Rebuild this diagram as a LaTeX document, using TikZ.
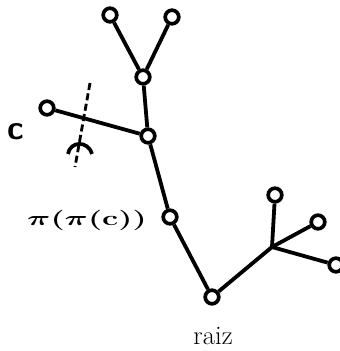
\documentclass[tikz,border=0pt]{standalone}
\usepackage{amsmath,amssymb,bm}
\usepackage{tikz}
\usetikzlibrary{arrows,positioning}

\begin{document}
\begin{tikzpicture}[x=0.025cm,y=-0.025cm,line width=2.7pt,
  vert/.style={circle,draw,fill=white,inner sep=0pt,minimum size=0.34cm,line width=2.6pt},
  cutmark/.style={line width=2pt,dash pattern=on 5pt off 2.5pt}]

              \useasboundingbox (0,0) rectangle (340,351);

              % Define vertices by coordinates
              \node[vert] (l1) at (110,15) {};
              \node[vert] (l2) at (172,17) {};
              \node[vert] (y) at (143,77) {};
              \node[vert] (c) at (47,108) {};
              \node[vert] (p1) at (148,136) {};
              \node[vert] (p2) at (170,217) {};
              \node[vert] (r) at (212,297) {};
              \coordinate (b) at (272,247);
              \node[vert] (b1) at (275,195) {};
              \node[vert] (b2) at (318,222) {};
              \node[vert] (b3) at (336,265) {};

              % Labels
              \node (lc) at (16,132) {\fontsize{24}{24}\selectfont\sffamily\bfseries c};
              \node (lp) at (87,220) {\fontsize{15}{15}\selectfont\scalebox{1.6}[1]{$\bm{\pi}\bm{(}\bm{\pi}\bm{(}\mathbf{c}\bm{)}\bm{)}$}};
              \node (lr) at (213,336) {\fontsize{19}{19}\selectfont raiz};

              % Draw straight edges
              \path
                (l1) edge (y)
                (l2) edge (y)
                (y) edge (p1)
                (c) edge (p1)
                (p1) edge (p2)
                (p2) edge (r)
                (r) edge (b)
                (b) edge (b1)
                (b) edge (b2)
                (b) edge (b3);

              % Cut mark
              \coordinate (ct) at (90,83);
              \coordinate (cb) at (75,167);
              \draw[cutmark] (ct) -- (cb);
              \draw[line width=2.6pt] (68,154) .. controls (70,141) and (88,140) .. (92,154);
            \end{tikzpicture}
\end{document}
